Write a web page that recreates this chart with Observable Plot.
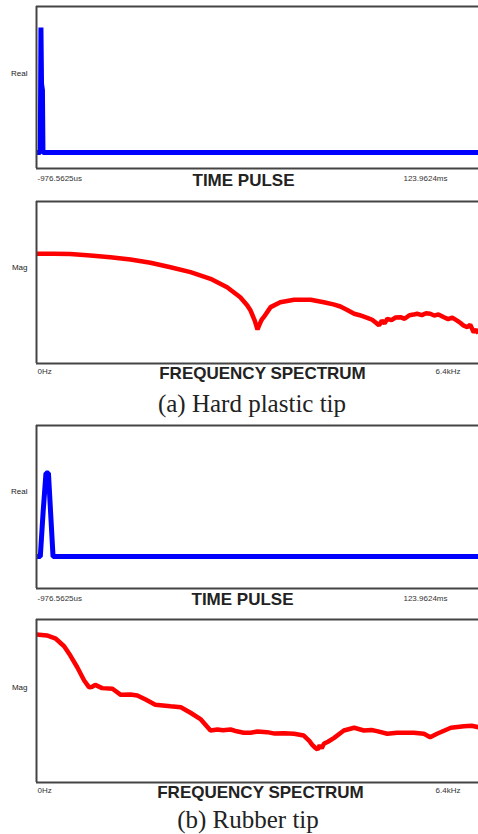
<!DOCTYPE html>
<html><head><meta charset="utf-8">
<script src="https://cdn.jsdelivr.net/npm/d3@7"></script>
<script src="https://cdn.jsdelivr.net/npm/@observablehq/plot@0.6"></script>
<style>
html,body{margin:0;padding:0;background:#fff;overflow:hidden}
#root{position:relative;width:478px;height:834px;background:#fff}
.panel{position:absolute;left:0}
.cap{position:absolute;left:0;width:478px;text-align:center;font-family:"Liberation Serif",serif;font-size:25px;color:#222;line-height:25px}
</style></head><body><div id="root"></div>
<script>
// ---- data ----
const timeDomain = [-0.9765625, 123.9624];          // ms
const freqDomain = [0, 6.4];                        // kHz
const timeTickLabels = ["-976.5625us", "123.9624ms"];
const freqTickLabels = ["0Hz", "6.4kHz"];
const timeTitle = "TIME PULSE";
const freqTitle = "FREQUENCY SPECTRUM";
const captions = ["(a) Hard plastic tip", "(b) Rubber tip"];

// (a) hard plastic tip - time pulse (ms, relative amplitude)
const hardPulseT = [-0.9765625, 0.1, 0.28, 0.45, 0.7, 0.85, 123.9624];
const hardPulseV = [0, 0, 1.0, 0.55, 0.5, 0, 0];
// (a) hard plastic tip - spectrum (kHz, relative magnitude)
const hardSpecF = [0,0.25,0.49,0.78,1.07,1.36,1.65,1.94,2.23,2.52,2.76,2.95,3.05,3.10,3.16,3.20,3.23,3.26,3.29,3.39,3.53,3.73,3.97,4.16,4.30,4.40,4.50,4.60,4.68,4.79,4.86,4.92,4.96,5.00,5.04,5.08,5.14,5.20,5.27,5.33,5.40,5.46,5.51,5.58,5.64,5.70,5.76,5.82,5.90,5.96,6.02,6.09,6.14,6.18,6.24,6.28,6.33,6.37,6.40];
const hardSpecV = [67.7,67.8,67.6,66.7,65.6,64.2,62.2,59.4,56.4,52.3,47.1,40.9,36.0,32.7,26.5,21.0,24.1,27.0,28.6,34.8,37.8,39.3,39.3,37.8,36.5,35.2,33.0,30.7,29.8,28.2,27.0,25.0,23.5,26.5,24.8,27.6,26.8,28.4,28.6,27.6,29.8,30.2,30.7,29.9,31.0,30.7,29.6,30.3,28.6,27.4,28.3,26.5,25.0,23.5,22.4,24.0,19.3,21.0,18.5];

// (b) rubber tip - time pulse
const rubberPulseT = [-0.9765625, 0.1, 0.9, 1.7, 2.4, 3.0, 3.7, 123.9624];
const rubberPulseV = [0, 0, 0.52, 0.97, 0.97, 0.52, 0, 0];
// (b) rubber tip - spectrum
const rubberSpecF = [0,0.15,0.28,0.40,0.49,0.59,0.69,0.76,0.80,0.85,0.95,1.10,1.22,1.36,1.46,1.58,1.72,1.94,2.09,2.23,2.38,2.52,2.62,2.70,2.81,2.90,3.00,3.10,3.20,3.34,3.45,3.58,3.73,3.87,3.95,3.99,4.03,4.07,4.10,4.13,4.16,4.22,4.31,4.45,4.60,4.74,4.85,4.93,5.08,5.22,5.46,5.61,5.70,5.80,6.00,6.19,6.30,6.40];
const rubberSpecV = [90.8,90.2,88.2,83.6,77.9,70.7,62.6,58.5,58.6,59.9,57.9,57.5,53.8,54.0,53.4,50.9,47.7,46.8,46.2,42.8,38.7,31.9,32.5,32.0,32.5,31.4,30.5,30.5,31.3,30.9,30.0,30.2,29.9,28.8,25.5,23.2,21.5,20.2,22.8,21.0,23.7,25.0,27.4,31.9,33.6,31.9,32.2,31.5,29.9,30.5,30.5,29.9,27.8,29.9,33.6,34.5,34.8,33.9];

const zip = (xs, ys) => xs.map((x, i) => ({x, y: ys[i]}));

function panel(o) {
  const data = zip(o.xs, o.ys);
  const svg = Plot.plot({
    width: 478,
    height: o.height,
    marginLeft: 36, marginRight: 0, marginTop: o.mt, marginBottom: o.mb,
    x: {domain: o.xDomain, axis: null},
    y: {domain: o.yDomain, axis: null},
    style: {fontFamily: "'Liberation Sans', Arial, sans-serif", background: "#fff", color: "#222"},
    marks: [
      Plot.line(data, {x: "x", y: "y", stroke: o.color, strokeWidth: o.sw, strokeLinejoin: "miter", strokeLinecap: "butt"}),
      Plot.ruleX([o.xDomain[0]], {stroke: "#444", strokeWidth: 2}),
      Plot.ruleY(o.yDomain, {stroke: "#444", strokeWidth: 2}),
      Plot.text([o.yLabel], {frameAnchor: "top-left", textAnchor: "end", dx: -9, dy: o.labelDy, fontSize: 8, fill: "#222"}),
      Plot.text([o.ticks[0]], {frameAnchor: "bottom-left", textAnchor: "start", dx: 1, dy: o.tickDy, fontSize: 8, fill: "#333"}),
      Plot.text([o.ticks[1]], {frameAnchor: "bottom-right", textAnchor: "end", dx: o.rightDx, dy: o.tickDy, fontSize: 8, fill: "#333"}),
      Plot.text([o.title], {frameAnchor: "bottom", dx: o.titleDx, dy: o.titleDy, fontSize: 17, fontWeight: "bold", fill: "#222"})
    ]
  });
  const wrap = document.createElement("div");
  wrap.className = "panel";
  wrap.style.top = o.top + "px";
  wrap.appendChild(svg);
  return wrap;
}

const root = document.getElementById("root");
root.appendChild(panel({top: 0, height: 196, mt: 6, mb: 28, xDomain: timeDomain, yDomain: [-0.128, 1.168],
  xs: hardPulseT, ys: hardPulseV, color: "#0000ff", sw: 5, yLabel: "Real", labelDy: 64,
  ticks: timeTickLabels, tickDy: 12, rightDx: -31, title: timeTitle, titleDx: -14, titleDy: 17}));
root.appendChild(panel({top: 196, height: 191, mt: 5, mb: 24, xDomain: freqDomain, yDomain: [0, 100],
  xs: hardSpecF, ys: hardSpecV, color: "#ff0000", sw: 4.5, yLabel: "Mag", labelDy: 63,
  ticks: freqTickLabels, tickDy: 10, rightDx: -18, title: freqTitle, titleDx: 5, titleDy: 15}));
root.appendChild(panel({top: 415, height: 198, mt: 10, mb: 25, xDomain: timeDomain, yDomain: [-0.372, 1.523],
  xs: rubberPulseT, ys: rubberPulseV, color: "#0000ff", sw: 5, yLabel: "Real", labelDy: 63,
  ticks: timeTickLabels, tickDy: 12, rightDx: -31, title: timeTitle, titleDx: -15, titleDy: 16}));
root.appendChild(panel({top: 613, height: 194, mt: 6, mb: 25, xDomain: freqDomain, yDomain: [0, 100],
  xs: rubberSpecF, ys: rubberSpecV, color: "#ff0000", sw: 4.5, yLabel: "Mag", labelDy: 65,
  ticks: freqTickLabels, tickDy: 10, rightDx: -18, title: freqTitle, titleDx: 3, titleDy: 15}));

const capTops = [391, 807];
captions.forEach((c, i) => {
  const d = document.createElement("div");
  d.className = "cap";
  d.style.top = capTops[i] + "px";
  d.style.marginLeft = (i === 0 ? 26 : 18) + "px";
  d.style.width = (478 - (i === 0 ? 26 : 18)) + "px";
  d.textContent = c;
  root.appendChild(d);
});
</script></body></html>
